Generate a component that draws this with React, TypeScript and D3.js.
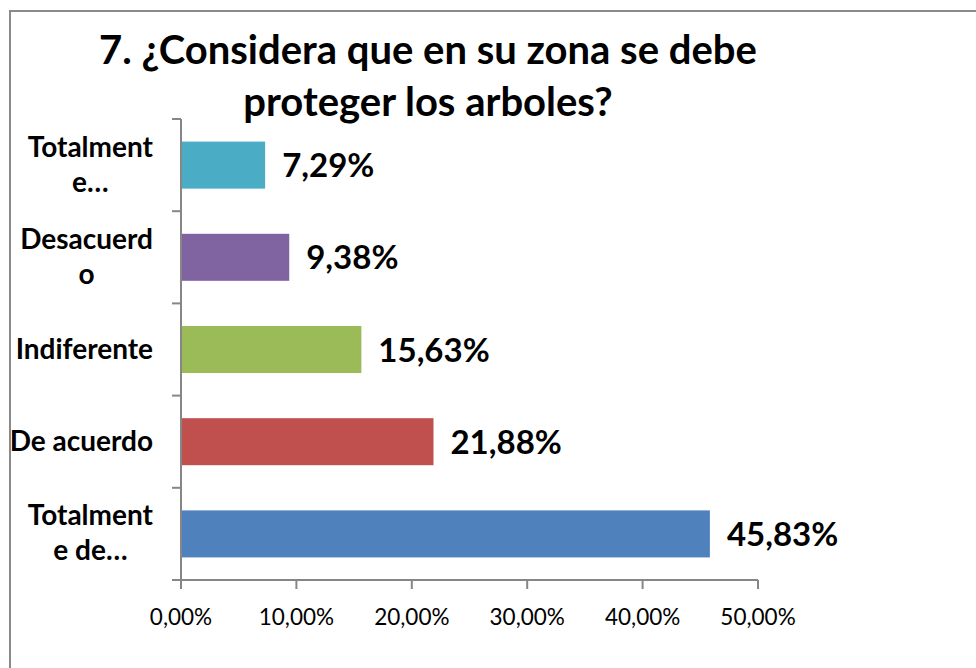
import React, { useEffect, useRef } from "react";
import * as d3 from "d3";

const categories = ["Totalmente de acuerdo", "De acuerdo", "Indiferente", "Desacuerdo", "Totalmente en desacuerdo"];
const labelLines = [["Totalment", "e de…"], ["De acuerdo"], ["Indiferente"], ["Desacuerd", "o"], ["Totalment", "e…"]];
const values = [0.4583, 0.2188, 0.1563, 0.0938, 0.0729];
const colors = ["#4F81BD", "#C0504D", "#9BBB59", "#8064A2", "#4BACC6"];
const xTicks = [0, 0.1, 0.2, 0.3, 0.4, 0.5];
const titleLines = ["7. ¿Considera que en su zona se debe", "proteger los arboles?"];

const esLocale = d3.formatLocale({ decimal: ",", thousands: ".", grouping: [3], currency: ["", ""] });
const pct = esLocale.format(".2%");

const App = () => {
  const svgRef = useRef(null);

  useEffect(() => {
    const svg = d3.select(svgRef.current);
    svg.selectAll("*").remove();

    const font = "Lato, 'Open Sans', sans-serif";
    const left = 181, right = 758, top = 119, bottom = 580;

    // outer chart border (runs off the page right and bottom)
    svg.append("rect")
      .attr("x", 10).attr("y", 11)
      .attr("width", 1000).attr("height", 700)
      .attr("fill", "#fff")
      .attr("stroke", "#8a8a8a")
      .attr("stroke-width", 2);

    // title
    svg.append("g")
      .selectAll("text")
      .data(titleLines)
      .join("text")
      .attr("x", 428)
      .attr("y", (d, i) => 64 + i * 52)
      .attr("text-anchor", "middle")
      .style("font-family", font)
      .style("font-weight", "bold")
      .style("font-size", "40px")
      .text((d) => d);

    const x = d3.scaleLinear().domain([0, 0.5]).range([left, right]);
    const y = d3.scaleBand()
      .domain(categories.slice().reverse())
      .range([top, bottom])
      .paddingInner(0.49)
      .paddingOuter(0.245);

    // bars
    svg.append("g")
      .selectAll("rect")
      .data(categories)
      .join("rect")
      .attr("x", x(0))
      .attr("y", (d) => y(d))
      .attr("width", (d, i) => x(values[i]) - x(0))
      .attr("height", y.bandwidth())
      .attr("fill", (d, i) => colors[i]);

    // value labels
    svg.append("g")
      .selectAll("text")
      .data(categories)
      .join("text")
      .attr("x", (d, i) => x(values[i]) + 17)
      .attr("y", (d) => y(d) + y.bandwidth() / 2 + 12)
      .style("font-family", font)
      .style("font-weight", "bold")
      .style("font-size", "33px")
      .text((d, i) => pct(values[i]));

    // y axis line and ticks at band edges
    const axisColor = "#868686";
    svg.append("line")
      .attr("x1", left).attr("x2", left)
      .attr("y1", top).attr("y2", bottom)
      .attr("stroke", axisColor).attr("stroke-width", 2);
    const step = y.step();
    svg.append("g")
      .selectAll("line")
      .data(d3.range(categories.length + 1))
      .join("line")
      .attr("x1", left - 9).attr("x2", left)
      .attr("y1", (d) => top + d * step)
      .attr("y2", (d) => top + d * step)
      .attr("stroke", axisColor).attr("stroke-width", 2);

    // x axis
    svg.append("line")
      .attr("x1", left).attr("x2", right)
      .attr("y1", bottom).attr("y2", bottom)
      .attr("stroke", axisColor).attr("stroke-width", 2);
    const xt = svg.append("g")
      .selectAll("g")
      .data(xTicks)
      .join("g")
      .attr("transform", (d) => `translate(${x(d)},${bottom})`);
    xt.append("line")
      .attr("y1", 0).attr("y2", 9)
      .attr("stroke", axisColor).attr("stroke-width", 2);
    xt.append("text")
      .attr("y", 45)
      .attr("text-anchor", "middle")
      .style("font-family", font)
      .style("font-size", "22.5px")
      .style("fill", "#000")
      .text((d) => pct(d));

    // category labels: block right-aligned, lines centered in block
    const labels = svg.append("g")
      .selectAll("text")
      .data(categories)
      .join("text")
      .style("font-family", font)
      .style("font-weight", "bold")
      .style("font-size", "28px");
    labels.each(function (d, i) {
      const t = d3.select(this);
      const lines = labelLines[i];
      const cy = y(d) + y.bandwidth() / 2;
      const lh = 35;
      lines.forEach((ln, k) => {
        t.append("tspan")
          .attr("y", cy + 9 + (k - (lines.length - 1) / 2) * lh)
          .text(ln);
      });
      let w = 0;
      t.selectAll("tspan").each(function () {
        w = Math.max(w, this.getComputedTextLength());
      });
      const cx = 153 - w / 2;
      t.attr("text-anchor", "middle");
      t.selectAll("tspan").attr("x", cx);
    });

    return () => {
      svg.selectAll("*").remove();
    };
  }, []);

  return (
    <svg
      ref={svgRef}
      width={976}
      height={668}
      style={{ display: "block", position: "absolute", left: 0, top: 0 }}
    ></svg>
  );
};

export default App;
